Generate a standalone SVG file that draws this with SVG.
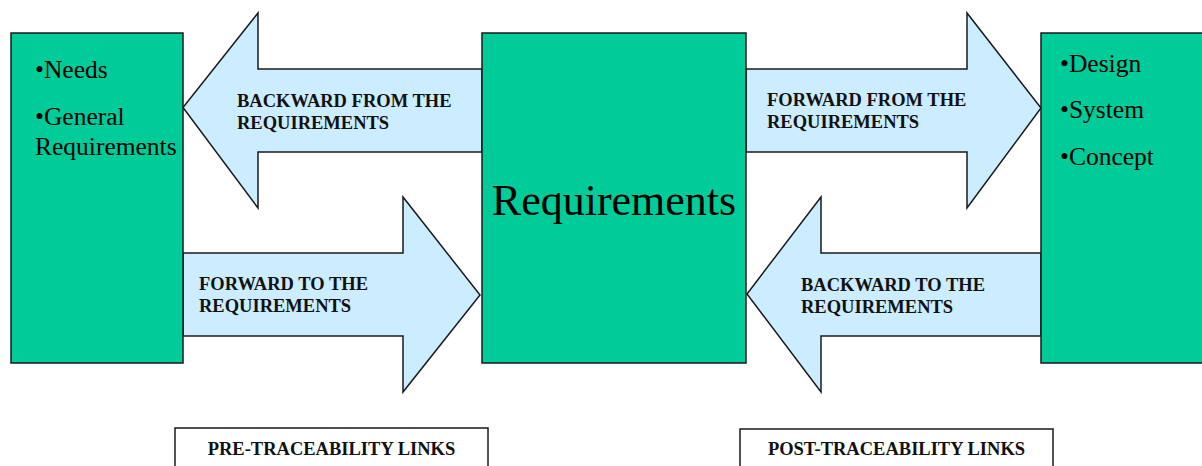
<svg xmlns="http://www.w3.org/2000/svg" width="1202" height="466" viewBox="0 0 1202 466">
  <style>
    .box { fill: #00CC99; stroke: #1a1a1a; stroke-width: 1.5; }
    .arrow { fill: #CCECFF; stroke: #1a1a1a; stroke-width: 1.5; stroke-linejoin: miter; }
    .caption { fill: #ffffff; stroke: #1a1a1a; stroke-width: 1.5; }
    .item { font-family: "Liberation Serif", "Times New Roman", serif; font-size: 25.5px; fill: #000; }
    .big { font-family: "Liberation Serif", "Times New Roman", serif; font-size: 44px; fill: #000; }
    .lbl { font-family: "Liberation Serif", "Times New Roman", serif; font-size: 18.5px; font-weight: bold; fill: #111; }
  </style>
  <rect width="1202" height="466" fill="#ffffff"/>

  <!-- block arrows between the three boxes -->
  <g id="connectors">
    <g id="backward-from">
      <path class="arrow" d="M482,69 L258,69 L258,13 L183,107.5 L258,208 L258,152 L482,152 Z"/>
      <text class="lbl" x="237" y="107">BACKWARD FROM THE</text>
      <text class="lbl" x="237" y="129">REQUIREMENTS</text>
    </g>
    <g id="forward-to">
      <path class="arrow" d="M183,253 L403,253 L403,197 L480,295 L403,392 L403,336 L183,336 Z"/>
      <text class="lbl" x="199" y="290">FORWARD TO THE</text>
      <text class="lbl" x="199" y="312">REQUIREMENTS</text>
    </g>
    <g id="forward-from">
      <path class="arrow" d="M746,69 L967,69 L967,13 L1041,108 L967,208 L967,152 L746,152 Z"/>
      <text class="lbl" x="767" y="106">FORWARD FROM THE</text>
      <text class="lbl" x="767" y="128">REQUIREMENTS</text>
    </g>
    <g id="backward-to">
      <path class="arrow" d="M1041,253 L821,253 L821,197 L747,294 L821,392 L821,336 L1041,336 Z"/>
      <text class="lbl" x="801" y="291">BACKWARD TO THE</text>
      <text class="lbl" x="801" y="313">REQUIREMENTS</text>
    </g>
  </g>

  <g id="pre-sources">
    <rect class="box" x="11" y="33" width="172" height="330"/>
    <text class="item" x="35" y="78">•Needs</text>
    <text class="item" x="35" y="125">•General</text>
    <text class="item" x="35" y="155">Requirements</text>
  </g>

  <g id="requirements">
    <rect class="box" x="482" y="33" width="264" height="330"/>
    <text class="big" x="614" y="215" text-anchor="middle">Requirements</text>
  </g>

  <g id="post-targets">
    <rect class="box" x="1041" y="33" width="180" height="330"/>
    <text class="item" x="1060" y="72">•Design</text>
    <text class="item" x="1060" y="118">•System</text>
    <text class="item" x="1060" y="165">•Concept</text>
  </g>

  <g id="pre-traceability">
    <rect class="caption" x="175" y="428" width="313" height="50"/>
    <text class="lbl" x="331.5" y="455" text-anchor="middle">PRE-TRACEABILITY LINKS</text>
  </g>

  <g id="post-traceability">
    <rect class="caption" x="740" y="429" width="313" height="50"/>
    <text class="lbl" x="896.5" y="455" text-anchor="middle">POST-TRACEABILITY LINKS</text>
  </g>
</svg>
